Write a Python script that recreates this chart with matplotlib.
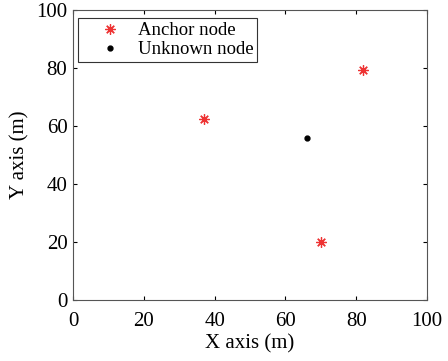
import matplotlib
matplotlib.use('Agg')
import matplotlib.pyplot as plt

anchor_x = [37, 82, 70]
anchor_y = [62.5, 79.5, 20]
unknown_x = [66]
unknown_y = [56]

plt.rcParams['font.family'] = ['Liberation Serif', 'DejaVu Serif']
plt.rcParams['font.size'] = 15

fig = plt.figure(figsize=(4.48, 3.61), dpi=100)
ax = fig.add_axes([0.163, 0.169, 0.79, 0.803])

# matlab style asterisk: 8 arms
ax.plot(anchor_x, anchor_y, linestyle='none', marker=(8, 2, 0), color='#ee3333',
        markersize=7.5, markeredgewidth=0.9, label='Anchor node')
ax.plot(unknown_x, unknown_y, linestyle='none', marker='.', color='black',
        markersize=7, label='Unknown node')

ax.set_xlim(0, 100)
ax.set_ylim(0, 100)
ax.set_xticks(range(0, 101, 20))
ax.set_yticks(range(0, 101, 20))
ax.tick_params(direction='in', top=True, right=True, length=3, width=0.8)
ax.tick_params(axis='x', pad=9)
ax.tick_params(axis='y', pad=4)
for s in ax.spines.values():
    s.set_color('#555555')
ax.set_xlabel('X axis (m)', labelpad=2)
ax.set_ylabel('Y axis (m)', labelpad=5)

leg = ax.legend(loc='upper left', bbox_to_anchor=(0.014, 0.972), borderaxespad=0,
                fancybox=False, edgecolor='#333333', framealpha=1,
                fontsize=13.5, handletextpad=0.0, borderpad=0.2,
                labelspacing=0.1, handlelength=3.0)
leg.get_frame().set_linewidth(0.8)

fig.savefig('out.png', dpi=100)
